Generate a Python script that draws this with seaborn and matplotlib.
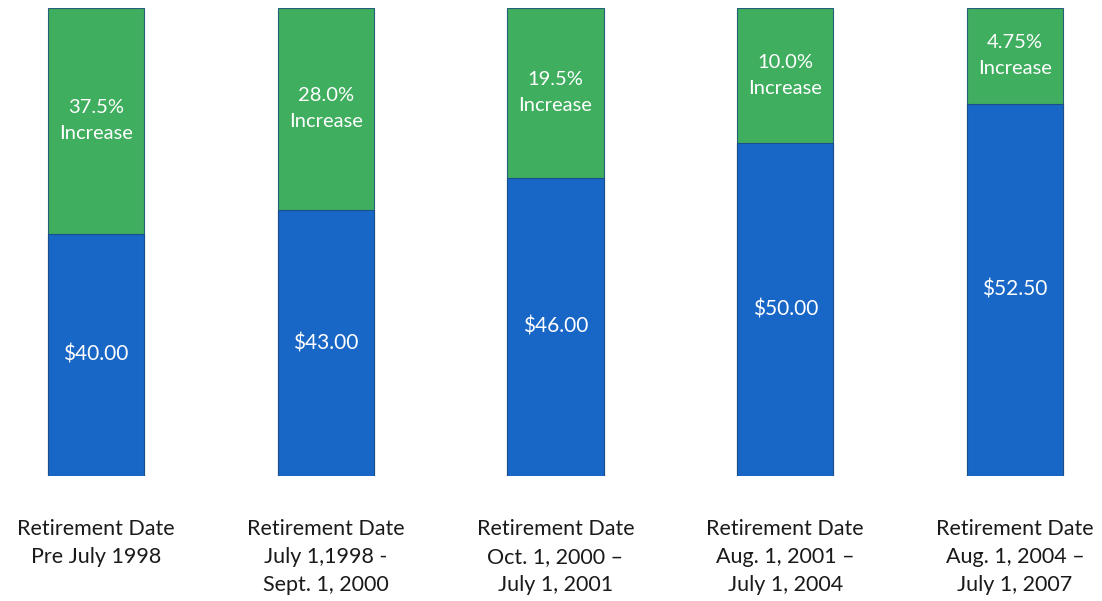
import matplotlib
matplotlib.use("Agg")
import matplotlib.pyplot as plt
import seaborn as sns
import pandas as pd

# data (bar heights as drawn, in % of the full bar)
categories = ["Retirement Date\nPre July 1998",
              "Retirement Date\nJuly 1,1998 -\nSept. 1, 2000",
              "Retirement Date\nOct. 1, 2000 \u2013\nJuly 1, 2001",
              "Retirement Date\nAug. 1, 2001 \u2013\nJuly 1, 2004",
              "Retirement Date\nAug. 1, 2004 \u2013\nJuly 1, 2007"]
base_height = [51.7, 56.8, 63.7, 71.2, 79.5]
total_height = [100, 100, 100, 100, 100]
base_labels = ["$40.00", "$43.00", "$46.00", "$50.00", "$52.50"]
increase_labels = ["37.5%", "28.0%", "19.5%", "10.0%", "4.75%"]

df = pd.DataFrame({"cat": categories, "base": base_height, "total": total_height})

sns.set_theme(style="white")
plt.rcParams["font.family"] = ["Lato", "DejaVu Sans"]

fig = plt.figure(figsize=(11.02, 6.01), dpi=100)
ax = fig.add_axes([0, 0.208, 1, 0.779])

green = "#3fae5e"
blue = "#1866c6"
sns.barplot(data=df, x="cat", y="total", color=green, width=0.42,
            edgecolor="#255f7a", linewidth=0.8, saturation=1, ax=ax)
sns.barplot(data=df, x="cat", y="base", color=blue, width=0.42,
            edgecolor="#1b4f8c", linewidth=0.8, saturation=1, ax=ax)

for i in range(len(categories)):
    ax.text(i, base_height[i] / 2, base_labels[i], ha="center", va="center",
            color="white", fontsize=15)
    mid = (base_height[i] + total_height[i]) / 2
    ax.text(i, mid, increase_labels[i] + "\nIncrease", ha="center", va="center",
            color="white", fontsize=14.5, linespacing=1.65)

ax.set_xlim(-0.418, 4.379)
ax.set_ylim(0, 100)
ax.set_yticks([])
ax.set_xlabel("")
ax.set_ylabel("")
ax.tick_params(axis="x", length=0, pad=31, labelsize=15.5, labelcolor="#1a1a1a")
for lbl in ax.get_xticklabels():
    lbl.set_linespacing(1.5)
for s in ax.spines.values():
    s.set_visible(False)

fig.savefig("out.png", dpi=100, facecolor="white")
